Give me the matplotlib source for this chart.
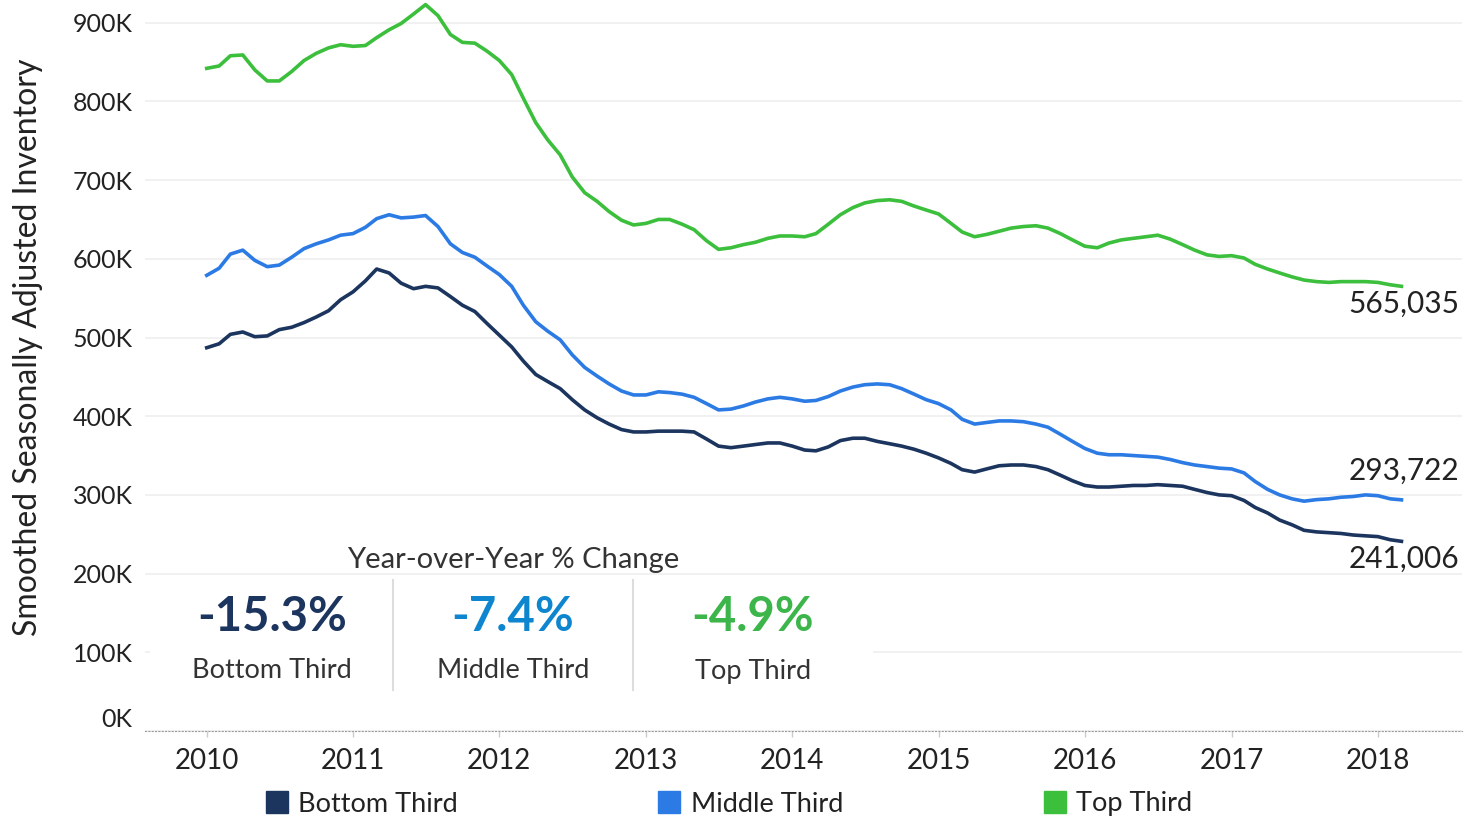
import matplotlib
matplotlib.use("Agg")
import matplotlib.pyplot as plt
import matplotlib.dates as mdates
from matplotlib.patches import Rectangle
import pandas as pd

# monthly smoothed inventory, thousands, Jan 2010 - Mar 2018
months = pd.date_range("2010-01-01", periods=99, freq="MS")

bottom = [487, 492, 504, 507, 501, 502, 510, 513, 519, 526, 534, 548, 558, 572, 587, 582, 569, 562, 565, 563, 552, 541, 533, 518, 503,
          488, 470, 453, 444, 435, 421, 408, 398, 390, 383, 380, 380, 381, 381, 381, 380, 371, 362, 360, 362, 364, 366, 366, 362, 357,
          356, 361, 369, 372, 372, 368, 365, 362, 358, 353, 347, 340, 332, 329, 333, 337, 338, 338, 336, 332, 325, 318, 312, 310,
          310, 311, 312, 312, 313, 312, 311, 307, 303, 300, 299, 293, 284, 277, 268, 262, 255, 253, 252, 251, 249, 248, 247, 243, 241.006]
middle = [579, 588, 606, 611, 598, 590, 592, 602, 613, 619, 624, 630, 632, 640, 651, 656, 652, 653, 655, 641, 619, 608, 602, 591, 580,
          565, 541, 520, 508, 497, 478, 462, 451, 441, 432, 427, 427, 431, 430, 428, 424, 416, 408, 409, 413, 418, 422, 424, 422, 419,
          420, 425, 432, 437, 440, 441, 440, 435, 428, 421, 416, 408, 396, 390, 392, 394, 394, 393, 390, 386, 377, 368, 359, 353,
          351, 351, 350, 349, 348, 345, 341, 338, 336, 334, 333, 328, 317, 307, 300, 295, 292, 294, 295, 297, 298, 300, 299, 295, 293.722]
top = [842, 845, 858, 859, 840, 826, 826, 838, 852, 861, 868, 872, 870, 871, 881, 891, 899, 911, 923, 909, 885, 875, 874, 864, 852,
       834, 804, 773, 751, 732, 704, 684, 673, 660, 649, 643, 645, 650, 650, 644, 637, 623, 612, 614, 618, 621, 626, 629, 629, 628,
       632, 644, 656, 665, 671, 674, 675, 673, 667, 662, 657, 645, 634, 628, 631, 635, 639, 641, 642, 639, 632, 624, 616, 614,
       620, 624, 626, 628, 630, 625, 618, 611, 605, 603, 604, 601, 593, 587, 582, 577, 573, 571, 570, 571, 571, 571, 570, 567, 565.035]

names = ["Bottom Third", "Middle Third", "Top Third"]
yoy = ["-15.3%", "-7.4%", "-4.9%"]
line_colors = ["#1c355e", "#2c7be5", "#3cbf3c"]
yoy_colors = ["#1c355e", "#0d86cf", "#3cb54a"]
yticks = [0, 100, 200, 300, 400, 500, 600, 700, 800, 900]

plt.rcParams["font.family"] = ["Lato", "DejaVu Sans"]

W, H = 1475, 816
fig = plt.figure(figsize=(W / 100, H / 100), dpi=100)


def fx(x):
    return x / W


def fy(y):
    return 1 - y / H


ax = fig.add_axes([fx(145), fy(731), fx(1462) - fx(145), 731 / H])

series = [bottom, middle, top]
for vals, name, c in zip(series, names, line_colors):
    ax.plot(months, vals, color=c, lw=2.6, label=name, zorder=3)

# end labels
offsets = [(58, -17), (58, 29), (58, -17)]
for vals, (dx, dy) in zip(series, offsets):
    ax.annotate(f"{vals[-1] * 1000:,.0f}", xy=(months[-1], vals[-1]), xytext=(dx, dy),
                textcoords="offset pixels", ha="right", va="center", fontsize=21.5, color="#222222")

ax.set_ylim(0, 731 / 0.787)
ax.set_xlim(pd.Timestamp("2009-07-31"), pd.Timestamp("2018-07-30"))
ax.set_yticks(yticks)
ax.set_yticklabels([f"{v}K" for v in yticks])
ax.get_yticklabels()[0].set_va("bottom")
ax.xaxis.set_major_locator(mdates.YearLocator())
ax.xaxis.set_major_formatter(mdates.DateFormatter("%Y"))
ax.tick_params(axis="y", length=0, pad=9, labelsize=18, labelcolor="#222222")
ax.tick_params(axis="x", length=4, width=1, color="#cccccc", pad=8, labelsize=20, labelcolor="#222222")
ax.grid(axis="y", color="#efefef", lw=1.2)
ax.set_axisbelow(True)
for s in ["top", "right", "left"]:
    ax.spines[s].set_visible(False)
ax.spines["bottom"].set_color("#9a9a9a")
ax.spines["bottom"].set_linestyle((0, (1, 2)))
ax.set_ylabel("Smoothed Seasonally Adjusted Inventory", fontsize=23, color="#222222", labelpad=21)
ax.yaxis.label.set_y((731 - 347) / 731)

# year-over-year panel
fig.patches.append(Rectangle((fx(150), fy(692)), fx(873) - fx(150), (692 - 578) / H,
                             transform=fig.transFigure, facecolor="white", edgecolor="none", zorder=1))
for x in [393, 633]:
    fig.add_artist(plt.Line2D([fx(x), fx(x)], [fy(580), fy(690)], color="#dddddd", lw=1.5))
fig.text(fx(513), fy(560), "Year-over-Year % Change", ha="center", va="center", fontsize=21, color="#333333")
for cx, val, name, c in zip([272, 513, 753], yoy, names, yoy_colors):
    fig.text(fx(cx), fy(617), val, ha="center", va="center", fontsize=34, fontweight="bold", color=c)
    fig.text(fx(cx), fy(671), name, ha="center", va="center", fontsize=19.5, color="#333333")

handles = [plt.Line2D([], [], marker="s", ls="none", markersize=16, color=c) for c in line_colors]
fig.legend(handles, names, loc="center", bbox_to_anchor=(fx(729), fy(804)), ncol=3, frameon=False,
           fontsize=19.5, handlelength=0.8, handletextpad=0.4, columnspacing=7.4, labelcolor="#222222")

fig.savefig("out.png", dpi=100)
